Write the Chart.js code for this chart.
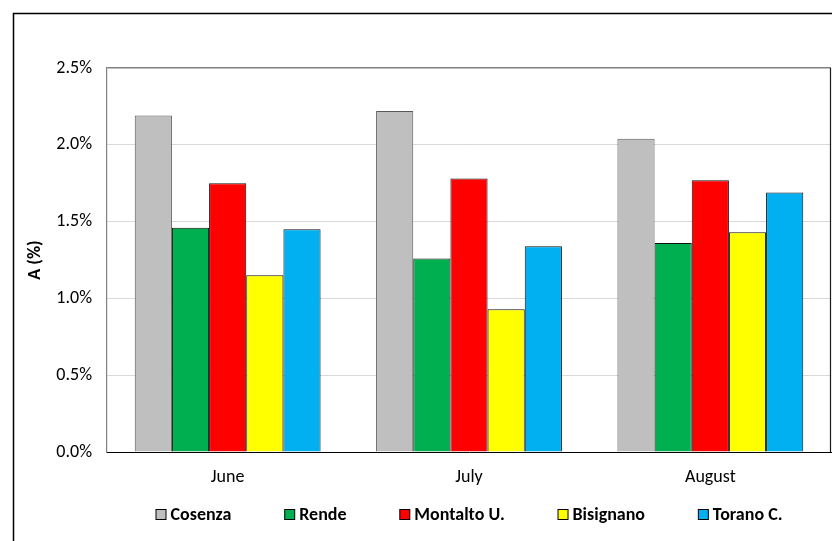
<!DOCTYPE html>
<html>
<head>
<meta charset="utf-8">
<script src="https://cdn.jsdelivr.net/npm/chart.js@4/dist/chart.umd.min.js"></script>
<style>
  html, body { margin: 0; padding: 0; background: #fff; }
  #wrap { width: 832px; height: 541px; }
</style>
</head>
<body>
<div id="wrap"><canvas id="myChart" width="832" height="541"></canvas></div>
<script>
'use strict';

// values in percent
var months    = ['June', 'July', 'August'];
var cosenza   = [2.19, 2.22, 2.04];
var rende     = [1.46, 1.26, 1.36];
var montalto  = [1.75, 1.78, 1.77];
var bisignano = [1.15, 0.93, 1.43];
var torano    = [1.45, 1.34, 1.69];
var yTicks    = [0, 0.5, 1, 1.5, 2, 2.5];

var FONT = 'Carlito, Lato, "Liberation Sans", sans-serif';

// outer frame, white background and the right edge of the plot
var frame = {
  id: 'frame',
  beforeDraw: function (chart) {
    var ctx = chart.ctx;
    ctx.save();
    ctx.fillStyle = '#fff';
    ctx.fillRect(0, 0, chart.width, chart.height);
    ctx.strokeStyle = '#000';
    ctx.lineWidth = 1.5;
    ctx.beginPath();
    ctx.moveTo(13.5, chart.height);
    ctx.lineTo(13.5, 13.5);
    ctx.lineTo(chart.width, 13.5);
    ctx.stroke();
    ctx.restore();
  },
  afterDraw: function (chart) {
    var a = chart.chartArea, ctx = chart.ctx;
    ctx.save();
    ctx.strokeStyle = '#1a1a1a';
    ctx.lineWidth = 1.2;
    ctx.beginPath();
    ctx.moveTo(a.right - 0.5, a.top);
    ctx.lineTo(a.right - 0.5, a.bottom);
    ctx.stroke();
    ctx.restore();
  }
};

// legend row under the axis, wider spacing than the built-in one allows
var legendRow = {
  id: 'legendRow',
  afterDraw: function (chart) {
    var a = chart.chartArea, ctx = chart.ctx;
    var sets = chart.data.datasets;
    var box = 10, gapText = 5, span = 627, y = a.bottom + 62;
    ctx.save();
    ctx.font = 'bold 18px ' + FONT;
    ctx.textBaseline = 'middle';
    var widths = sets.map(function (d) { return box + gapText + ctx.measureText(d.label).width; });
    var sum = widths.reduce(function (s, w) { return s + w; }, 0);
    var gap = (span - sum) / (sets.length - 1);
    var x = (a.left + a.right) / 2 - span / 2;
    sets.forEach(function (d, i) {
      ctx.fillStyle = d.backgroundColor;
      ctx.fillRect(x + 0.5, y - box / 2 + 0.5, box, box);
      ctx.strokeStyle = '#000';
      ctx.lineWidth = 1;
      ctx.strokeRect(x + 0.5, y - box / 2 + 0.5, box, box);
      ctx.fillStyle = '#000';
      ctx.fillText(d.label, x + box + gapText, y + 1);
      x += widths[i] + gap;
    });
    ctx.restore();
  }
};

function ds(label, data, color, border) {
  return {
    label: label,
    data: data,
    backgroundColor: color,
    borderColor: border || '#111',
    borderWidth: 1,
    categoryPercentage: 0.77,
    barPercentage: 1
  };
}

var ctx = document.getElementById('myChart').getContext('2d');
var chart = new Chart(ctx, {
  type: 'bar',
  data: {
    labels: months,
    datasets: [
      ds('Cosenza', cosenza, '#BFBFBF', '#595959'),
      ds('Rende', rende, '#00B050'),
      ds('Montalto U.', montalto, '#FF0000'),
      ds('Bisignano', bisignano, '#FFFF00'),
      ds('Torano C.', torano, '#00B0F0')
    ]
  },
  options: {
    responsive: false,
    animation: false,
    devicePixelRatio: 1,
    layout: { padding: { top: 68, right: 1, bottom: 49, left: 0 } },
    plugins: {
      tooltip: { enabled: false },
      legend: { display: false }
    },
    scales: {
      x: {
        grid: { display: false, drawTicks: false },
        border: { display: true, color: '#000', width: 1 },
        ticks: { color: '#000', padding: 15, font: { family: FONT, size: 18 } },
        afterFit: function (s) { s.height = 40; }
      },
      y: {
        min: 0,
        max: 2.5,
        afterBuildTicks: function (s) {
          s.ticks = yTicks.map(function (v) { return { value: v }; });
        },
        grid: {
          drawTicks: false,
          color: function (c) {
            if (c.tick && c.tick.value === 2.5) return '#808080';
            if (c.tick && c.tick.value === 0) return 'rgba(0,0,0,0)';
            return '#D9D9D9';
          },
          lineWidth: function (c) {
            return (c.tick && c.tick.value === 2.5) ? 1.5 : 1;
          }
        },
        border: { display: true, color: '#808080', width: 1.2 },
        ticks: {
          color: '#000',
          padding: 15,
          font: { family: FONT, size: 18 },
          callback: function (v) { return v.toFixed(1) + '%'; }
        },
        title: {
          display: true,
          text: 'A (%)',
          color: '#000',
          padding: { top: 25, bottom: 0 },
          font: { family: FONT, size: 18, weight: 'bold' }
        },
        afterFit: function (s) { s.width = 107; }
      }
    }
  },
  plugins: [frame, legendRow]
});
</script>
</body>
</html>
